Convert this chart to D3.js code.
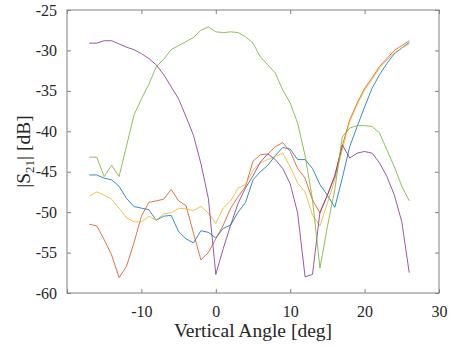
<!DOCTYPE html>
<html>
<head>
<meta charset="utf-8">
<script src="https://cdn.jsdelivr.net/npm/d3@7"></script>
<style>
  body { margin: 0; background: #fff; }
  svg { display: block; }
  svg text { font-family: "Liberation Serif", "DejaVu Serif", serif; }
</style>
</head>
<body>
<svg id="drawing_region"></svg>
<script>
// angles in degrees, one sample per degree
const angles = d3.range(-17, 27)

const s21_blue = [-45.4,-45.4,-45.8,-46.0,-46.8,-48.3,-49.3,-49.5,-49.7,-51.0,-50.5,-50.4,-52.4,-53.3,-53.8,-52.3,-52.5,-53.2,-52.0,-51.6,-50.0,-48.8,-46.0,-45.0,-44.2,-43.0,-42.0,-42.2,-43.5,-43.5,-44.6,-46.6,-47.9,-49.4,-45.8,-41.9,-39.4,-37.0,-34.7,-33.0,-31.6,-30.4,-29.7,-29.0]
const s21_orange = [-51.5,-51.7,-53.4,-55.3,-58.1,-56.7,-53.8,-50.5,-48.8,-48.6,-48.4,-47.2,-48.6,-49.2,-52.6,-55.9,-55.0,-53.3,-51.6,-49.5,-48.1,-46.8,-43.7,-42.9,-42.8,-41.9,-41.4,-42.5,-44.6,-45.8,-48.5,-50.1,-47.9,-45.4,-41.8,-38.6,-36.5,-34.7,-33.4,-32.0,-31.0,-30.0,-29.4,-28.8]
const s21_yellow = [-48.0,-47.5,-47.9,-48.4,-49.5,-50.7,-51.2,-51.2,-50.5,-51.0,-50.2,-50.1,-49.5,-49.6,-49.8,-49.3,-50.1,-51.4,-49.5,-48.6,-47.0,-46.6,-44.8,-43.9,-43.5,-43.1,-42.7,-44.4,-46.4,-47.5,-50.4,-51.7,-48.9,-46.0,-42.3,-38.8,-36.7,-34.9,-33.6,-32.2,-31.2,-30.3,-29.7,-29.2]
const s21_purple = [-29.1,-29.1,-28.8,-28.8,-29.2,-29.6,-29.9,-30.4,-31.0,-31.8,-33.0,-34.5,-36.0,-38.2,-40.5,-44.0,-48.3,-57.7,-54.5,-51.6,-48.9,-47.0,-45.5,-43.8,-42.8,-43.5,-44.6,-46.5,-50.1,-58.0,-57.7,-50.0,-47.9,-45.6,-41.7,-43.3,-42.7,-42.5,-42.7,-43.9,-45.6,-47.9,-51.2,-57.5]
const s21_green = [-43.2,-43.2,-45.6,-44.2,-45.6,-41.8,-38.0,-36.0,-34.2,-32.0,-31.1,-29.9,-29.4,-28.9,-28.4,-27.5,-27.1,-27.7,-27.8,-27.7,-27.8,-28.3,-29.1,-30.8,-31.8,-32.8,-34.9,-36.5,-39.0,-43.0,-48.5,-56.9,-51.8,-47.2,-40.7,-39.6,-39.3,-39.3,-39.4,-40.2,-42.3,-44.4,-46.8,-48.6]

const series_values = [s21_blue, s21_orange, s21_yellow, s21_purple, s21_green]
const series_colors = ['#0072BD','#D95319','#EDB120','#7E2F8E','#77AC30']

const x_ticks = [-20,-10,0,10,20,30]
const x_tick_labels = ['','-10','0','10','20','30']
const y_ticks = [-60,-55,-50,-45,-40,-35,-30,-25]
const y_tick_labels = ['-60','-55','-50','-45','-40','-35','-30','-25']

class LinePlot{
    constructor(config){
        this.config = {
            parent: config.parent,
            width: config.width || 449,
            height: config.height || 349,
            margin: config.margin || {top: 10, bottom: 10, left: 10, right: 10}
        }
        this.init()
    }

    init(){
        let self = this
        self.svg = d3.select(self.config.parent)
            .attr('width',self.config.width)
            .attr('height',self.config.height)

        self.inner_width = self.config.width - self.config.margin.left - self.config.margin.right
        self.inner_height = self.config.height - self.config.margin.top - self.config.margin.bottom

        self.chart = self.svg.append('g')
            .attr('transform',`translate(${self.config.margin.left},${self.config.margin.top})`)

        self.xscale = d3.scaleLinear().domain([-20,30]).range([0,self.inner_width])
        self.yscale = d3.scaleLinear().domain([-60,-25]).range([self.inner_height,0])
    }

    render(){
        let self = this
        const w = self.inner_width, h = self.inner_height
        const tick = 4

        // axes: ticks pointing inward on all four sides
        const xfmt = (d,i) => x_tick_labels[i]
        const yfmt = (d,i) => y_tick_labels[i]
        const xb = self.chart.append('g').attr('transform',`translate(0,${h})`)
            .call(d3.axisBottom(self.xscale).tickValues(x_ticks).tickFormat(xfmt).tickSizeInner(-tick).tickSizeOuter(0).tickPadding(13))
        const xt = self.chart.append('g')
            .call(d3.axisTop(self.xscale).tickValues(x_ticks).tickFormat('').tickSizeInner(-tick).tickSizeOuter(0))
        const yl = self.chart.append('g')
            .call(d3.axisLeft(self.yscale).tickValues(y_ticks).tickFormat(yfmt).tickSizeInner(-tick).tickSizeOuter(0).tickPadding(10))
        const yr = self.chart.append('g').attr('transform',`translate(${w},0)`)
            .call(d3.axisRight(self.yscale).tickValues(y_ticks).tickFormat('').tickSizeInner(-tick).tickSizeOuter(0))

        ;[xb,xt,yl,yr].forEach(g => {
            g.attr('font-family',null).attr('font-size',16)
            g.select('.domain').remove()
            g.selectAll('line').attr('stroke','#808080').attr('stroke-width',1)
            g.selectAll('text').attr('fill','#262626')
        })

        self.chart.append('rect')
            .attr('x',0).attr('y',0).attr('width',w).attr('height',h)
            .attr('fill','none').attr('stroke','#808080').attr('stroke-width',1)

        const line = d3.line()
            .x((d,i) => self.xscale(angles[i]))
            .y(d => self.yscale(d))

        self.chart.selectAll('path.series')
            .data(series_values).enter()
            .append('path')
            .attr('class','series')
            .attr('d', d => line(d))
            .attr('fill','none')
            .attr('stroke', (d,i) => series_colors[i])
            .attr('stroke-width',1)
            .attr('stroke-opacity',0.8)

        self.svg.append('text')
            .attr('x', self.config.margin.left + w/2)
            .attr('y', 337)
            .attr('text-anchor','middle')
            .attr('font-size',19.5)
            .attr('fill','#262626')
            .text('Vertical Angle [deg]')

        const ylab = self.svg.append('text')
            .attr('transform',`translate(30,${self.config.margin.top + h/2}) rotate(-90)`)
            .attr('text-anchor','middle')
            .attr('font-size',19.5)
            .attr('fill','#262626')
        ylab.append('tspan').text('|S')
        ylab.append('tspan').attr('font-size',13).attr('dy',4).text('21')
        ylab.append('tspan').attr('dy',-4).text('| [dB]')
    }
}

const config = {
    parent: '#drawing_region',
    width: 449,
    height: 349,
    margin: {top:10, right:10, bottom:56, left:67}
}
const plot = new LinePlot(config)
plot.render()
</script>
</body>
</html>
